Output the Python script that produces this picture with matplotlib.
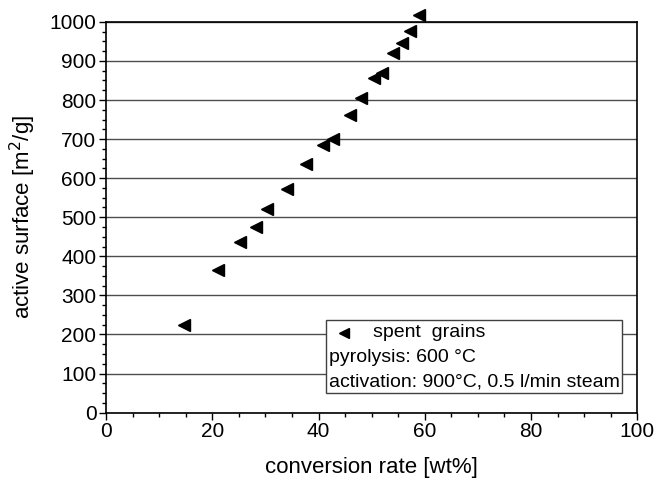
import matplotlib
matplotlib.use('Agg')
import matplotlib.pyplot as plt
from matplotlib.offsetbox import AnchoredOffsetbox, DrawingArea, TextArea, HPacker, VPacker
from matplotlib.lines import Line2D
from matplotlib.ticker import MultipleLocator

plt.rcParams['font.family'] = ['Liberation Sans', 'DejaVu Sans']

# conversion rate [wt%] and active surface [m2/g]
conversion = [14.7, 21.1, 25.3, 28.3, 30.3, 34.1, 37.7, 40.9, 42.8, 45.9,
              47.9, 50.4, 52.0, 54.1, 55.7, 57.2, 58.9]
surface = [224, 365, 437, 476, 521, 571, 635, 686, 700, 761,
           806, 857, 870, 921, 947, 977, 1017]

series_label = 'spent  grains'
info_lines = ['pyrolysis: 600 °C', 'activation: 900°C, 0.5 l/min steam']

fig = plt.figure(figsize=(6.59, 4.86), dpi=100)
ax = fig.add_axes([0.161, 0.151, 0.806, 0.804])

ax.plot(conversion, surface, linestyle='none', marker='<', color='black',
        markersize=8.5, clip_on=False, zorder=3)

ax.set_xlim(0, 100)
ax.set_ylim(0, 1000)
ax.xaxis.set_major_locator(MultipleLocator(20))
ax.xaxis.set_minor_locator(MultipleLocator(5))
ax.yaxis.set_major_locator(MultipleLocator(100))
ax.yaxis.set_minor_locator(MultipleLocator(25))
ax.tick_params(which='both', direction='out', top=False, right=False,
               width=1, color='black', labelsize=15)
ax.tick_params(which='major', length=5, pad=2)
ax.tick_params(which='minor', length=3)
ax.grid(axis='y', which='major', color='0.3', linewidth=1)
ax.set_axisbelow(True)
for s in ax.spines.values():
    s.set_linewidth(1.2)

ax.set_xlabel('conversion rate [wt%]', fontsize=16, labelpad=11)
ax.set_ylabel('active surface [m$^2$/g]', fontsize=16, labelpad=8)

# legend box: marker entry + two info lines
da = DrawingArea(22, 14, 0, 0)
da.add_artist(Line2D([11], [7], marker='<', color='black', markersize=7,
                     linestyle='none'))
first = HPacker(children=[da, TextArea(series_label, textprops=dict(fontsize=14))],
                align='center', pad=0, sep=10)
rows = [first] + [TextArea(t, textprops=dict(fontsize=14)) for t in info_lines]
box = VPacker(children=rows, align='left', pad=0, sep=5)
anch = AnchoredOffsetbox(loc='lower right', child=box, pad=0.2, borderpad=0,
                         bbox_to_anchor=(0.972, 0.05), bbox_transform=ax.transAxes,
                         frameon=True)
anch.patch.set_edgecolor('0.25')
anch.patch.set_linewidth(1)
anch.patch.set_boxstyle('square', pad=0)
anch.zorder = 4
ax.add_artist(anch)

fig.savefig('out.png', dpi=100)
